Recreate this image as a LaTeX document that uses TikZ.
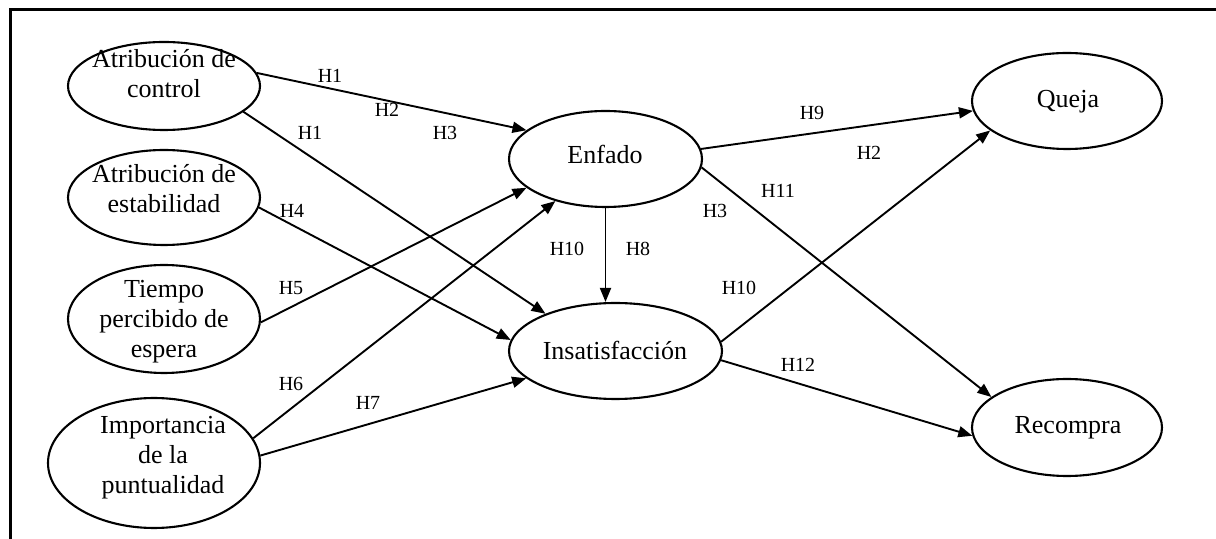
\documentclass[tikz,border=0pt]{standalone}
\usepackage{fontspec}
\setmainfont{Liberation Serif}
\usetikzlibrary{arrows.meta,shapes.geometric}
\begin{document}
\begin{tikzpicture}[x=0.5pt,y=-0.5pt,
  ell/.style={draw, ellipse, line width=1.05pt, inner sep=0pt},
  txt/.style={align=center, inner sep=0pt, font=\fontsize{13}{15}\selectfont},
  lab/.style={inner sep=0pt, font=\fontsize{10}{12}\selectfont},
  arr/.style={line width=0.95pt, -{Triangle[length=7pt,width=5.5pt]}},
  frameline/.style={line width=1.2pt}]
\useasboundingbox (0,0) rectangle (1216,539);
\draw[frameline] (1216,9.5) -- (10.3,9.5) -- (10.3,539);

% ellipses
\node[ell, minimum width=96pt, minimum height=44pt] (ctrl) at (164,86) {};
\node[ell, minimum width=96pt, minimum height=47.5pt] (estab) at (164,197.5) {};
\node[ell, minimum width=96pt, minimum height=54pt] (tiempo) at (164,319) {};
\node[ell, minimum width=106pt, minimum height=65pt] (imp) at (154,463) {};
\node[ell, minimum width=96.5pt, minimum height=48pt] (enf) at (605.5,159) {};
\node[ell, minimum width=106.5pt, minimum height=48pt] (ins) at (615.5,351) {};
\node[ell, minimum width=95pt, minimum height=48pt] (queja) at (1067,101) {};
\node[ell, minimum width=95pt, minimum height=48.5pt] (recom) at (1067,427.5) {};

% texts
\node[txt] (ctrl-t) at (164,74) {Atribución de\\control};
\node[txt] (estab-t) at (164,188.5) {Atribución de\\estabilidad};
\node[txt] (tiempo-t) at (164,322) {Tiempo\\percibido de\\espera};
\node[txt] (imp-t) at (163,457.5) {Importancia\\de la\\puntualidad};
\node[txt] (enf-t) at (605,154) {Enfado};
\node[txt] (ins-t) at (615,350) {Insatisfacción};
\node[txt] (queja-t) at (1068,102) {Queja};
\node[txt] (recom-t) at (1068,427.3) {Recompra};

% connectors
\draw[arr] (ctrl.8) -- (enf.160);
\draw[arr] (ctrl.-18) -- (ins.152);
\draw[arr] (estab.-6) -- (ins.174);
\draw[arr] (tiempo.-2) -- (enf.200);
\draw[arr] (imp.14) -- (enf.220);
\draw[arr] (imp.4) -- (ins.197);
\draw[arr] (enf.6) -- (queja.186.6);
\draw[arr] (enf.-5) -- (recom.158.8);
\draw[arr] (enf.south) -- (enf.south |- ins.north);
\draw[arr] (ins.5) -- (queja.201);
\draw[arr] (ins.-5) -- (recom.185.7);

% labels
\node[lab] (l1) at (330,76) {H1};
\node[lab] (l2) at (387,110) {H2};
\node[lab] (l3) at (310,133) {H1};
\node[lab] (l4) at (445,133) {H3};
\node[lab] (l5) at (292,211) {H4};
\node[lab] (l6) at (291,288) {H5};
\node[lab] (l7) at (291,384) {H6};
\node[lab] (l8) at (368,403) {H7};
\node[lab] (l9) at (812,113) {H9};
\node[lab] (l10) at (869,153) {H2};
\node[lab] (l11) at (778,191) {H11};
\node[lab] (l12) at (715,211) {H3};
\node[lab] (l13) at (567,249) {H10};
\node[lab] (l14) at (638,249) {H8};
\node[lab] (l15) at (739,288) {H10};
\node[lab] (l16) at (798,365) {H12};
\end{tikzpicture}
\end{document}
